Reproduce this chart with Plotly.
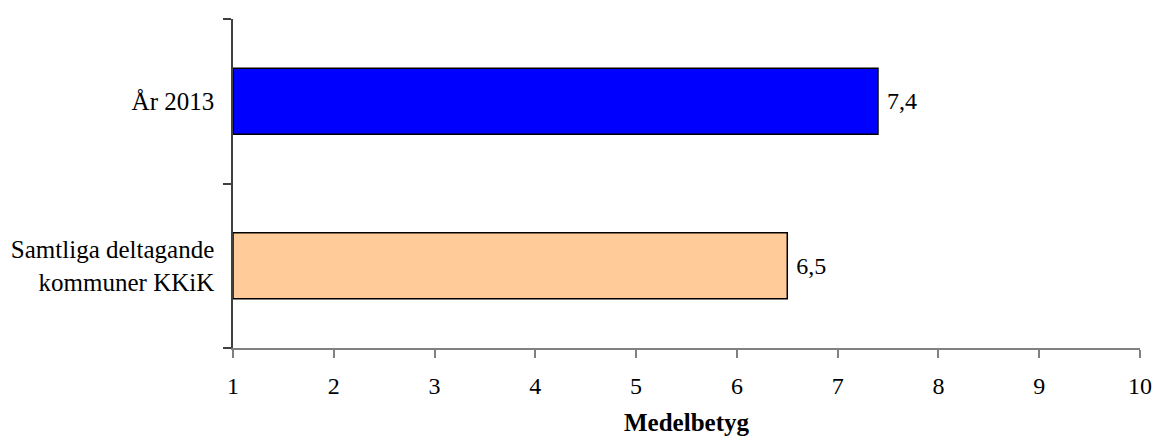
import plotly.graph_objects as go

categories = ["Samtliga deltagande<br>kommuner KKiK", "År 2013"]
values = [6.5, 7.4]
value_labels = ["6,5", "7,4"]
colors = ["#FFCC99", "#0000FF"]
x_ticks = [1, 2, 3, 4, 5, 6, 7, 8, 9, 10]
x_title = "Medelbetyg"
axis_min = 1

fig = go.Figure(go.Bar(
    y=categories,
    x=[v - axis_min for v in values],
    base=axis_min,
    orientation="h",
    width=0.4,
    marker=dict(color=colors, line=dict(color="black", width=1.5)),
    text=[" " + t for t in value_labels],
    textposition="outside",
    textfont=dict(size=24, color="black"),
    cliponaxis=False,
))

font = "Liberation Serif, Times New Roman, serif"
fig.update_layout(
    width=1157, height=442,
    margin=dict(l=233, r=17, t=19, b=94, autoexpand=False),
    paper_bgcolor="white", plot_bgcolor="white",
    font=dict(family=font, size=24, color="black"),
    showlegend=False,
)
fig.update_xaxes(
    range=[1, 10], tickvals=x_ticks, ticktext=[str(t) for t in x_ticks],
    showline=True, linecolor="#808080", linewidth=1.5,
    ticks="outside", ticklen=8, tickcolor="#808080", tickwidth=1.5,
    showgrid=False, zeroline=False, automargin=False,
    tickfont=dict(size=24), ticklabelstandoff=7,
    title=dict(text="<b>" + x_title + "</b>", font=dict(size=25), standoff=16),
)
fig.update_yaxes(
    type="category", categoryorder="array", categoryarray=categories,
    showline=True, linecolor="#404040", linewidth=1.5,
    ticks="outside", ticklen=8, tickcolor="#404040", tickwidth=1.5,
    tickson="boundaries", showgrid=False, automargin=False,
    tickfont=dict(size=25), ticklabelstandoff=12,
)
fig.write_html(
    "out.html",
    config={"displayModeBar": False},
    post_script="document.body.style.margin='0';document.body.style.padding='0';",
)
